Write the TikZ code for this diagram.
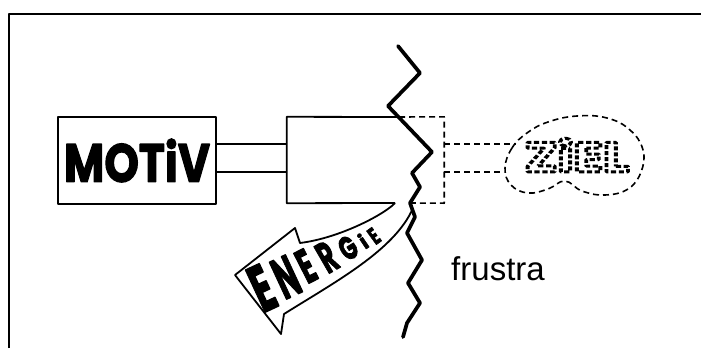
\documentclass[tikz,border=0pt]{standalone}
\usepackage{fontspec}
\usepackage{graphicx}
\setmainfont{Liberation Sans}
\newfontfamily\blobfont{Poppins}[FakeBold=2.5]
\newfontfamily\plainblob{Poppins}
\usetikzlibrary{calc}

% heavy rounded lettering at a given size
\newcommand\blobsize[1]{\blobfont\bfseries\fontsize{#1}{#1}\selectfont}
% letters drawn only as a dashed outline
\newcommand\dashtext[1]{\special{pdf:literal direct 1 Tr 3 w [4 2] 0 d}#1\special{pdf:literal direct 0 Tr [] 0 d}}

\tikzset{
  frame/.style={line width=2pt},
  edge/.style={line width=1.8pt},
  dashline/.style={line width=1.6pt, dash pattern=on 6pt off 4pt},
  crack/.style={line width=3.7pt, line join=round, line cap=round},
  box/.style={draw, edge, inner sep=0pt},
  letter/.style={inner sep=0pt},
}

\begin{document}
\begin{tikzpicture}[x=1pt, y=-1pt, line join=round]
\useasboundingbox (0,0) rectangle (701,348);

% frame on top and left
\draw[frame] (9,348) -- (9,14) -- (701,14);

% motive box
\node[box, minimum width=158pt, minimum height=87pt] (motiv) at (137,160.5)
  {\raisebox{-2pt}{\scalebox{1}[1.22]{\blobsize{44}MOTiV}}};

% action box, split by the crack
\node[inner sep=0pt, minimum width=157pt, minimum height=86pt] (act) at (365.5,160) {};
\coordinate (topcut) at (399,117);
\coordinate (botcut) at (412,203);
\coordinate (cusp) at (395,203);
\draw[edge] (topcut) -- (act.north west) -- (act.south west) -- (cusp);
\draw[dashline] (topcut) -- (act.north east) -- (act.south east) -- (botcut);

% links between motive and action
\coordinate (m1) at ($(motiv.east)+(0,-16.5)$);
\coordinate (m2) at ($(motiv.east)+(0,11.5)$);
\draw[edge] (m1) -- (m1 -| act.west);
\draw[edge] (m2) -- (m2 -| act.west);

% goal
\node[letter, xscale=1.3] (ziel) at (577,155)
  {\plainblob\bfseries\fontsize{42}{42}\selectfont\dashtext{ZiEL}};
\draw[dashline] plot[smooth cycle, tension=0.7] coordinates {
  (505,168) (512,148) (527,133) (548,122) (577,116) (607,118) (630,130)
  (643,150) (641,172) (628,189) (605,195) (582,191) (565,181) (548,189)
  (528,193) (511,185)};
\coordinate (zu) at (516,144);
\coordinate (zl) at (503,172);
\draw[dashline] (act.east |- zu) -- (zu);
\draw[dashline] (act.east |- zl) -- (zl);

% the crack
\draw[crack] (398,46) -- (420,73) -- (388,106) -- (432,152) -- (412,173)
  -- (420,187) -- (410,203) -- (415,217) -- (407,233) -- (422,260)
  -- (408,283) -- (420,303) -- (407,323) -- (403,337);

% energy arrow turning back
\draw[edge] (cusp) .. controls (385,214) and (340,238) .. (300,243)
  -- (295,228) -- (235,275) -- (281,334) -- (284,314)
  .. controls (335,282) and (395,250) .. (413,208);
\node[letter, rotate=25, xscale=0.55] (e1) at (262,288) {\blobsize{66}E};
\node[letter, rotate=25, xscale=0.5] (e2) at (286,277) {\blobsize{58}N};
\node[letter, rotate=27, xscale=0.55] (e3) at (306,266) {\blobsize{48}E};
\node[letter, rotate=30, xscale=0.55] (e4) at (327,257) {\blobsize{44}R};
\node[letter, rotate=32, xscale=0.65] (e5) at (348,248) {\blobsize{33}G};
\node[letter, rotate=34] (e6) at (363,241) {\blobsize{21}i};
\node[letter, rotate=36, xscale=0.65] (e7) at (374,236) {\blobsize{24}E};

% label
\node[inner sep=0pt, font=\fontsize{33}{33}\selectfont] (fr) at (498,269) {frustra};
\end{tikzpicture}
\end{document}
